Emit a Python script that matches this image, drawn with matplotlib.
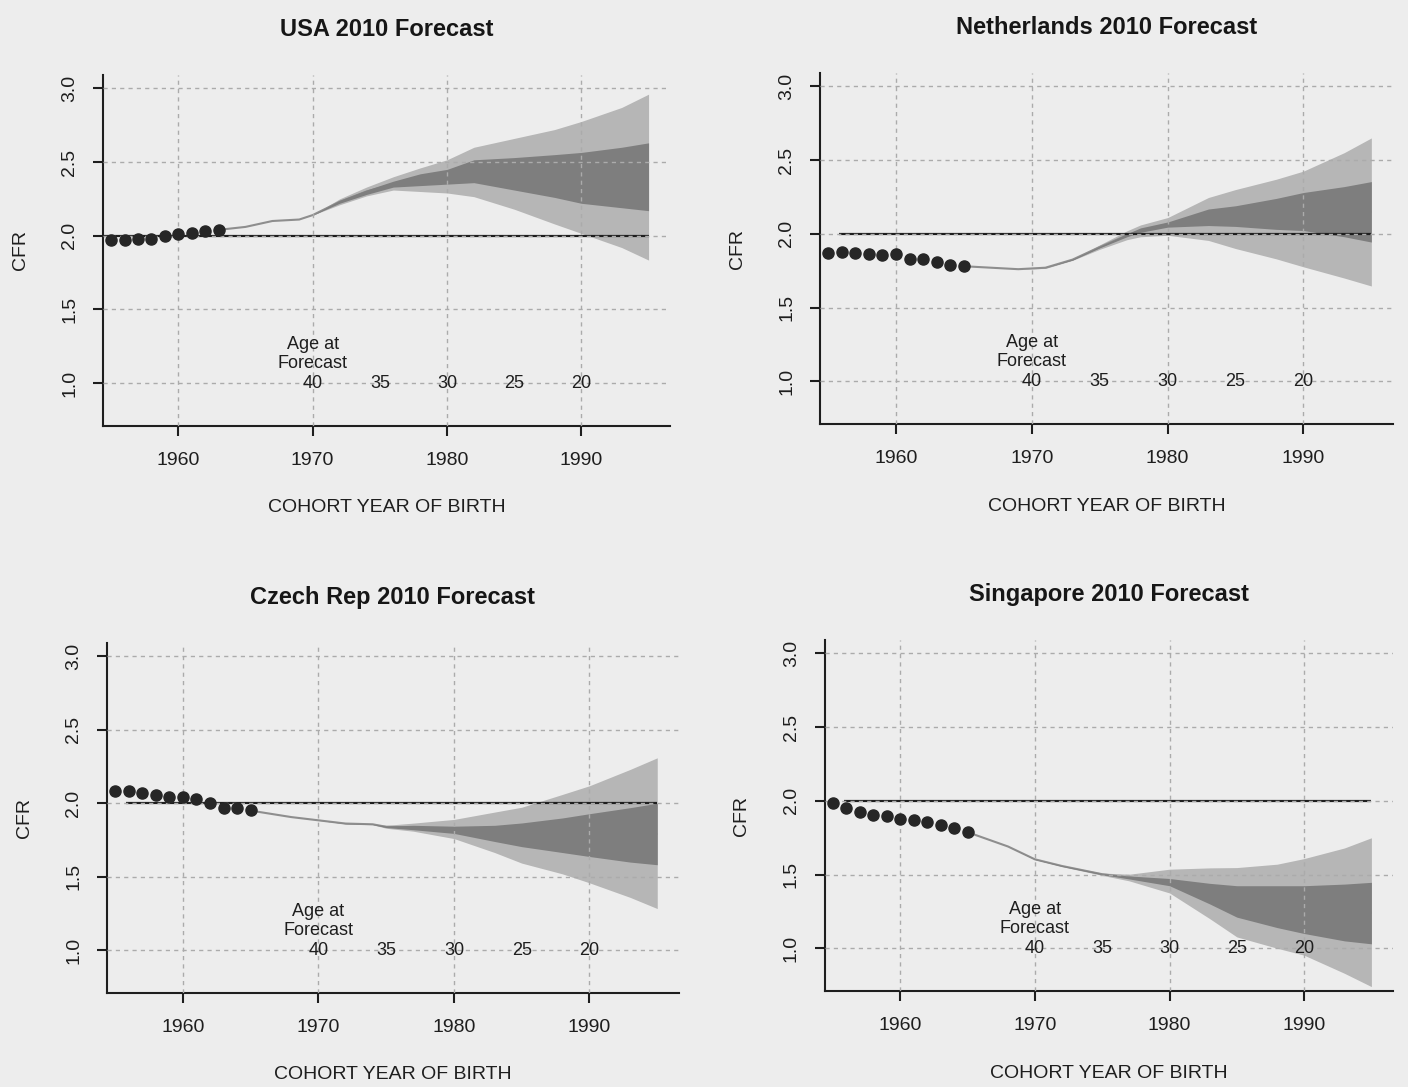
import matplotlib.pyplot as plt
import matplotlib as mpl

mpl.rcParams['font.family'] = ['Liberation Sans', 'DejaVu Sans']
mpl.rcParams['axes.linewidth'] = 1.5

# observed cohort fertility (dots)
obs_years_usa = [1955, 1956, 1957, 1958, 1959, 1960, 1961, 1962, 1963]
obs_usa = [1.97, 1.97, 1.975, 1.98, 2.0, 2.01, 2.02, 2.03, 2.04]
obs_years = [1955, 1956, 1957, 1958, 1959, 1960, 1961, 1962, 1963, 1964, 1965]
obs_nl = [1.87, 1.875, 1.87, 1.865, 1.855, 1.86, 1.83, 1.83, 1.81, 1.79, 1.78]
obs_cz = [2.08, 2.08, 2.07, 2.055, 2.045, 2.04, 2.03, 2.0, 1.97, 1.965, 1.955]
obs_sg = [1.985, 1.951, 1.924, 1.906, 1.894, 1.879, 1.868, 1.854, 1.834, 1.812, 1.787]

# forecasts: median, 80% and 95% bands
fc_years_usa = [1963, 1965, 1967, 1969, 1970, 1972, 1974, 1976, 1978, 1980, 1982, 1985, 1988, 1990, 1993, 1995]
med_usa = [2.04, 2.06, 2.10, 2.11, 2.14, 2.23, 2.30, 2.35, 2.38, 2.40, 2.43, 2.43, 2.41, 2.40, 2.40, 2.40]
hi95_usa = [2.04, 2.06, 2.10, 2.11, 2.14, 2.25, 2.33, 2.40, 2.46, 2.515, 2.60, 2.66, 2.72, 2.775, 2.87, 2.96]
hi80_usa = [2.04, 2.06, 2.10, 2.11, 2.14, 2.24, 2.31, 2.37, 2.42, 2.45, 2.515, 2.53, 2.55, 2.565, 2.60, 2.63]
lo80_usa = [2.04, 2.06, 2.10, 2.11, 2.14, 2.22, 2.28, 2.33, 2.34, 2.35, 2.36, 2.31, 2.26, 2.22, 2.19, 2.17]
lo95_usa = [2.04, 2.06, 2.10, 2.11, 2.14, 2.21, 2.27, 2.31, 2.30, 2.29, 2.265, 2.18, 2.08, 2.016, 1.92, 1.835]

fc_years_nl = [1965, 1967, 1969, 1971, 1973, 1975, 1977, 1978, 1980, 1983, 1985, 1988, 1990, 1993, 1995]
med_nl = [1.78, 1.77, 1.76, 1.77, 1.825, 1.91, 1.99, 2.02, 2.065, 2.11, 2.12, 2.14, 2.15, 2.15, 2.15]
hi95_nl = [1.78, 1.77, 1.76, 1.775, 1.83, 1.925, 2.02, 2.06, 2.11, 2.246, 2.30, 2.37, 2.425, 2.55, 2.65]
hi80_nl = [1.78, 1.77, 1.76, 1.77, 1.828, 1.915, 2.00, 2.04, 2.08, 2.168, 2.19, 2.24, 2.28, 2.32, 2.354]
lo80_nl = [1.78, 1.77, 1.76, 1.77, 1.822, 1.905, 1.98, 2.01, 2.045, 2.056, 2.05, 2.03, 2.022, 1.98, 1.944]
lo95_nl = [1.78, 1.77, 1.76, 1.765, 1.82, 1.895, 1.96, 1.98, 1.99, 1.955, 1.90, 1.83, 1.776, 1.70, 1.646]

fc_years_cz = [1965, 1968, 1970, 1972, 1974, 1975, 1977, 1980, 1983, 1985, 1988, 1990, 1993, 1995]
med_cz = [1.95, 1.906, 1.884, 1.862, 1.857, 1.84, 1.835, 1.82, 1.80, 1.785, 1.79, 1.78, 1.79, 1.79]
hi95_cz = [1.95, 1.906, 1.884, 1.865, 1.86, 1.85, 1.865, 1.89, 1.94, 1.973, 2.06, 2.119, 2.23, 2.309]
hi80_cz = [1.95, 1.906, 1.884, 1.863, 1.858, 1.845, 1.85, 1.844, 1.85, 1.866, 1.90, 1.929, 1.97, 2.0]
lo80_cz = [1.95, 1.906, 1.884, 1.861, 1.856, 1.835, 1.82, 1.795, 1.74, 1.705, 1.665, 1.638, 1.60, 1.582]
lo95_cz = [1.95, 1.906, 1.884, 1.859, 1.854, 1.83, 1.81, 1.76, 1.665, 1.593, 1.52, 1.459, 1.36, 1.284]

fc_years_sg = [1965, 1968, 1970, 1972, 1975, 1977, 1980, 1983, 1985, 1988, 1990, 1993, 1995]
med_sg = [1.787, 1.69, 1.603, 1.558, 1.502, 1.48, 1.45, 1.38, 1.32, 1.27, 1.26, 1.24, 1.24]
hi95_sg = [1.787, 1.69, 1.605, 1.562, 1.51, 1.502, 1.536, 1.545, 1.547, 1.57, 1.608, 1.68, 1.749]
hi80_sg = [1.787, 1.69, 1.604, 1.56, 1.505, 1.49, 1.473, 1.44, 1.424, 1.424, 1.424, 1.435, 1.447]
lo80_sg = [1.787, 1.69, 1.602, 1.556, 1.499, 1.47, 1.424, 1.30, 1.211, 1.14, 1.10, 1.05, 1.03]
lo95_sg = [1.787, 1.69, 1.601, 1.554, 1.494, 1.457, 1.375, 1.20, 1.077, 1.00, 0.953, 0.83, 0.74]

xticks = [1960, 1970, 1980, 1990]
yticks = [1.0, 1.5, 2.0, 2.5, 3.0]
ytick_labels = ['1.0', '1.5', '2.0', '2.5', '3.0']
age_years = [1970, 1975, 1980, 1985, 1990]
age_labels = ['40', '35', '30', '25', '20']

bg = '#ededed'
ink = '#1e1e1e'
fig = plt.figure(figsize=(14.08, 10.87), dpi=100, facecolor=bg)

panels = [
    ('USA 2010 Forecast', [0.0732, 0.6081, 0.4027, 0.3229], obs_years_usa, obs_usa,
     fc_years_usa, med_usa, lo95_usa, lo80_usa, hi80_usa, hi95_usa, 1954.4),
    ('Netherlands 2010 Forecast', [0.5824, 0.6099, 0.4070, 0.3229], obs_years, obs_nl,
     fc_years_nl, med_nl, lo95_nl, lo80_nl, hi80_nl, hi95_nl, 1955.8),
    ('Czech Rep 2010 Forecast', [0.0760, 0.0865, 0.4062, 0.3220], obs_years, obs_cz,
     fc_years_cz, med_cz, lo95_cz, lo80_cz, hi80_cz, hi95_cz, 1955.8),
    ('Singapore 2010 Forecast', [0.5859, 0.0883, 0.4034, 0.3229], obs_years, obs_sg,
     fc_years_sg, med_sg, lo95_sg, lo80_sg, hi80_sg, hi95_sg, 1955.8),
]

for (title, rect, oy, ov, fy, med, lo95, lo80, hi80, hi95, line_start) in panels:
    ax = fig.add_axes(rect)
    ax.set_facecolor(bg)
    ax.set_xlim(1954.4, 1996.6)
    ax.set_ylim(0.71, 3.09)
    ax.spines['top'].set_visible(False)
    ax.spines['right'].set_visible(False)
    ax.spines['left'].set_color(ink)
    ax.spines['bottom'].set_color(ink)

    # fan chart; median sits under the 80% band so it only shows where the fan is thin
    ax.fill_between(fy, lo95, hi95, color='#b6b6b6', lw=0, zorder=1)
    ax.plot(fy, med, color='#8e8e8e', lw=1.5, zorder=1.05, solid_capstyle='butt')
    ax.fill_between(fy, lo80, hi80, color='#7e7e7e', lw=0, zorder=1.1)

    # replacement level
    ax.plot([line_start, 1995], [2.0, 2.0], color=ink, lw=1.6, zorder=2, solid_capstyle='butt')

    ax.set_axisbelow(False)
    ax.grid(True, color='#ababab', linestyle=(0, (3, 3)), lw=1.0, zorder=2.5)

    ax.plot(oy, ov, 'o', color='#262626', ms=8, zorder=3)

    ax.set_xticks(xticks)
    ax.set_yticks(yticks)
    ax.set_yticklabels(ytick_labels, rotation=90, va='center')
    ax.tick_params(axis='both', labelsize=14, length=7, width=1.5, color=ink, labelcolor=ink)
    ax.tick_params(axis='x', pad=12)
    ax.tick_params(axis='y', pad=11)

    ax.text(1970, 1.2, 'Age at\nForecast', ha='center', va='center', fontsize=13,
            color=ink, linespacing=1.15, zorder=4)
    for yr, lab in zip(age_years, age_labels):
        ax.text(yr, 1.0, lab, ha='center', va='center', fontsize=13, color=ink, zorder=4)

    ax.set_title(title, fontsize=17, fontweight='bold', pad=28, color='#161616')

    w_px = rect[2] * 1408
    h_px = rect[3] * 1087
    ax.set_xlabel('COHORT YEAR OF BIRTH', fontsize=14, color=ink)
    ax.xaxis.label.set_va('center')
    ax.xaxis.set_label_coords(0.5, -82 / h_px)
    ax.set_ylabel('CFR', fontsize=14, color=ink)
    ax.yaxis.label.set_va('center')
    ax.yaxis.set_label_coords(-83 / w_px, 0.5)

fig.savefig('out.png', dpi=100, facecolor=bg)
